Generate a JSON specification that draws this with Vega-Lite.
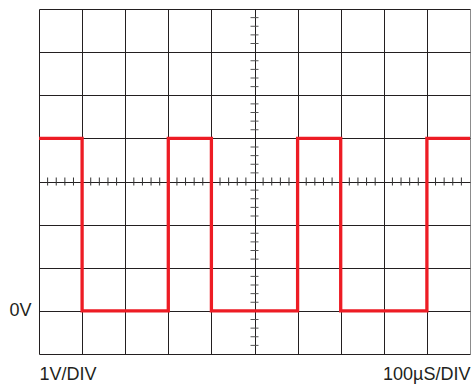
{
  "$schema": "https://vega.github.io/schema/vega-lite/v6.json",
  "width": 431,
  "height": 345,
  "autosize": "none",
  "padding": {"left": 39, "top": 9, "right": 1, "bottom": 31},
  "background": "white",
  "config": {"view": {"stroke": null}, "font": "Liberation Sans"},
  "encoding": {
    "x": {
      "field": "x", "type": "quantitative",
      "scale": {"domain": [0, 10], "nice": false, "zero": false},
      "axis": {
        "values": [0, 1, 2, 3, 4, 5, 6, 7, 8, 9, 10],
        "grid": true,
        "gridColor": {"condition": {"test": "datum.value == 10", "value": "#8c8c8c"}, "value": "#231f20"},
        "gridOpacity": 1, "gridWidth": 1,
        "domain": false, "ticks": false, "title": null,
        "labelExpr": "datum.value == 0 ? '1V/DIV' : datum.value == 10 ? '100µS/DIV' : ''",
        "labelAlign": {"condition": {"test": "datum.value == 0", "value": "left"}, "value": "right"},
        "labelBaseline": "top", "labelPadding": 11, "labelFontSize": 18,
        "labelColor": "#231f20", "labelOverlap": false, "labelFlush": false, "labelBound": false
      }
    },
    "y": {
      "field": "y", "type": "quantitative",
      "scale": {"domain": [-1, 7], "nice": false, "zero": false},
      "axis": {
        "values": [-1, 0, 1, 2, 3, 4, 5, 6, 7],
        "grid": true, "gridColor": "#231f20", "gridOpacity": 1, "gridWidth": 1,
        "domain": false, "ticks": false, "title": null,
        "labelExpr": "datum.value == 0 ? '0V' : ''",
        "labelAlign": "right", "labelBaseline": "middle", "labelPadding": 8, "labelFontSize": 18,
        "labelColor": "#231f20", "labelOverlap": false, "labelFlush": false, "labelBound": false
      }
    }
  },
  "layer": [
    {
      "data": {"values": [
        {"x": 0.2, "y": 3}, {"x": 0.4, "y": 3}, {"x": 0.6, "y": 3}, {"x": 0.8, "y": 3},
        {"x": 1.2, "y": 3}, {"x": 1.4, "y": 3}, {"x": 1.6, "y": 3}, {"x": 1.8, "y": 3},
        {"x": 2.2, "y": 3}, {"x": 2.4, "y": 3}, {"x": 2.6, "y": 3}, {"x": 2.8, "y": 3},
        {"x": 3.2, "y": 3}, {"x": 3.4, "y": 3}, {"x": 3.6, "y": 3}, {"x": 3.8, "y": 3},
        {"x": 4.2, "y": 3}, {"x": 4.4, "y": 3}, {"x": 4.6, "y": 3}, {"x": 4.8, "y": 3},
        {"x": 5.2, "y": 3}, {"x": 5.4, "y": 3}, {"x": 5.6, "y": 3}, {"x": 5.8, "y": 3},
        {"x": 6.2, "y": 3}, {"x": 6.4, "y": 3}, {"x": 6.6, "y": 3}, {"x": 6.8, "y": 3},
        {"x": 7.2, "y": 3}, {"x": 7.4, "y": 3}, {"x": 7.6, "y": 3}, {"x": 7.8, "y": 3},
        {"x": 8.2, "y": 3}, {"x": 8.4, "y": 3}, {"x": 8.6, "y": 3}, {"x": 8.8, "y": 3},
        {"x": 9.2, "y": 3}, {"x": 9.4, "y": 3}, {"x": 9.6, "y": 3}, {"x": 9.8, "y": 3}
      ]},
      "mark": {"type": "tick", "orient": "vertical", "size": 8, "thickness": 1, "color": "#333333", "opacity": 1}
    },
    {
      "data": {"values": [
        {"x": 5, "y": -0.8}, {"x": 5, "y": -0.6}, {"x": 5, "y": -0.4}, {"x": 5, "y": -0.2},
        {"x": 5, "y": 0.2}, {"x": 5, "y": 0.4}, {"x": 5, "y": 0.6}, {"x": 5, "y": 0.8},
        {"x": 5, "y": 1.2}, {"x": 5, "y": 1.4}, {"x": 5, "y": 1.6}, {"x": 5, "y": 1.8},
        {"x": 5, "y": 2.2}, {"x": 5, "y": 2.4}, {"x": 5, "y": 2.6}, {"x": 5, "y": 2.8},
        {"x": 5, "y": 3.2}, {"x": 5, "y": 3.4}, {"x": 5, "y": 3.6}, {"x": 5, "y": 3.8},
        {"x": 5, "y": 4.2}, {"x": 5, "y": 4.4}, {"x": 5, "y": 4.6}, {"x": 5, "y": 4.8},
        {"x": 5, "y": 5.2}, {"x": 5, "y": 5.4}, {"x": 5, "y": 5.6}, {"x": 5, "y": 5.8},
        {"x": 5, "y": 6.2}, {"x": 5, "y": 6.4}, {"x": 5, "y": 6.6}, {"x": 5, "y": 6.8}
      ]},
      "mark": {"type": "tick", "orient": "horizontal", "size": 8, "thickness": 1, "color": "#555555", "opacity": 1}
    },
    {
      "data": {"values": [
        {"x": 0, "y": 4}, {"x": 1, "y": 0}, {"x": 3, "y": 4}, {"x": 4, "y": 0},
        {"x": 6, "y": 4}, {"x": 7, "y": 0}, {"x": 9, "y": 4}, {"x": 10, "y": 4}
      ]},
      "mark": {"type": "line", "interpolate": "step-after", "color": "#ed1c24", "strokeWidth": 3.3, "strokeJoin": "miter", "clip": false}
    }
  ]
}
